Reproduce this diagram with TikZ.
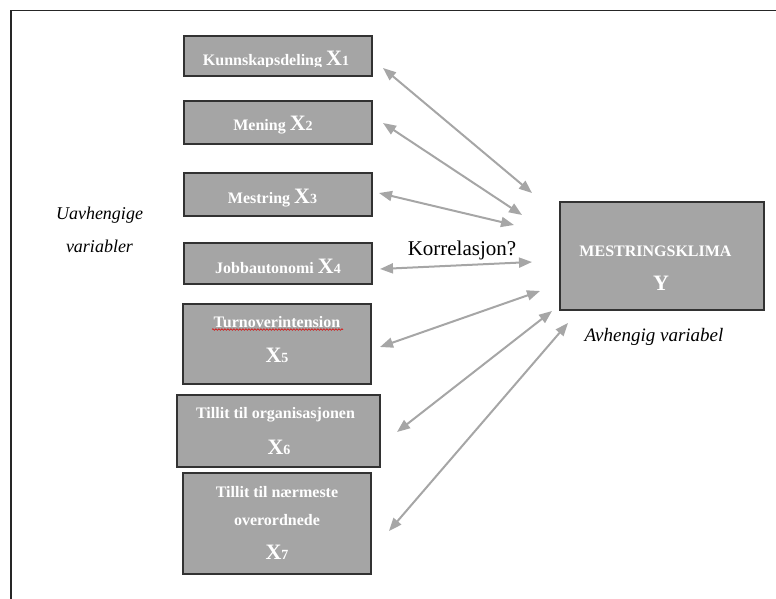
\documentclass[tikz,border=0pt]{standalone}
\usepackage{fontspec}
\setmainfont{Liberation Serif}
\usetikzlibrary{arrows.meta,decorations.pathmorphing}
\definecolor{boxgray}{RGB}{165,165,165}
\definecolor{agray}{RGB}{166,166,166}
\definecolor{edgegray}{RGB}{50,50,50}
\newcommand\bigX[1]{{\fontsize{22}{24}\selectfont X}{\fontsize{14}{16}\selectfont #1}}
\begin{document}
\begin{tikzpicture}[x=1pt,y=-1pt,
  vbox/.style={draw=edgegray, line width=1.3pt, fill=boxgray, rectangle, inner sep=0pt},
  lbl/.style={text=white, font=\bfseries\fontsize{16}{18}\selectfont, anchor=base, inner sep=0pt},
  side/.style={font=\itshape\fontsize{18}{20}\selectfont, anchor=base, inner sep=0pt},
  biarrow/.style={draw=agray, line width=2pt, {Triangle[length=13pt,width=10pt]}-{Triangle[length=13pt,width=10pt]}},
  frameline/.style={draw=black!85, line width=1.6pt}]
\useasboundingbox (0,0) rectangle (776,599);
% frame
\coordinate (fbl) at (11,599);
\coordinate (ftl) at (11,10.5);
\coordinate (ftr) at (776,10.5);
\draw[frameline] (fbl) -- (ftl) -- (ftr);
% boxes
\node[vbox, minimum width=188pt, minimum height=40pt] (x1) at (278,56) {};
\node[vbox, minimum width=188pt, minimum height=43pt] (x2) at (278,122.5) {};
\node[vbox, minimum width=188pt, minimum height=43pt] (x3) at (278,194.5) {};
\node[vbox, minimum width=188pt, minimum height=41pt] (x4) at (278,263.5) {};
\node[vbox, minimum width=188pt, minimum height=80pt] (x5) at (277,344) {};
\node[vbox, minimum width=203pt, minimum height=72pt] (x6) at (278.5,431) {};
\node[vbox, minimum width=188pt, minimum height=101pt] (x7) at (277,523.5) {};
\node[vbox, minimum width=204pt, minimum height=108pt] (y) at (662,256) {};
% labels
\begin{scope}
\clip (185,37) rectangle (371,67);
\node[lbl] (t1) at (276,66) {Kunnskapsdeling \bigX{1}};
\end{scope}
\node[lbl] (t2) at (273,131) {Mening \bigX{2}};
\node[lbl] (t3) at (272.5,203) {Mestring \bigX{3}};
\node[lbl] (t4) at (278,273) {Jobbautonomi \bigX{4}};
\node[lbl] (t5a) at (277,327) {Turnoverintension};
\node[lbl] (t5b) at (277,362) {\bigX{5}};
\node[lbl] (t6a) at (275.5,418) {Tillit til organisasjonen};
\node[lbl] (t6b) at (279,454) {\bigX{6}};
\node[lbl] (t7a) at (277,497) {Tillit til nærmeste};
\node[lbl] (t7b) at (277,525) {overordnede};
\node[lbl] (t7c) at (277,559) {\bigX{7}};
\node[lbl, font=\bfseries\fontsize{16}{18}\selectfont] (ty1) at (655.5,256) {MESTRINGSKLIMA};
\node[lbl, font=\bfseries\fontsize{22}{24}\selectfont] (ty2) at (661,290) {Y};
% spell-check squiggle
\coordinate (sq1) at (212,329.5);
\coordinate (sq2) at (343,329.5);
\draw[red!85!black, line width=0.6pt, decorate, decoration={snake, amplitude=0.8pt, segment length=3pt}] (sq1) -- (sq2);
% side texts
\node[side] (u1) at (99.5,219) {Uavhengige};
\node[side] (u2) at (99.5,252) {variabler};
\node[side, font=\itshape\fontsize{19}{21}\selectfont] (av) at (654,341) {Avhengig variabel};
\node[font=\fontsize{21}{23}\selectfont, anchor=base, inner sep=0pt] (kor) at (462,255) {Korrelasjon?};
% arrow endpoints
\coordinate (a1s) at (383,68);  \coordinate (a1e) at (532,193);
\coordinate (a2s) at (383,123); \coordinate (a2e) at (522,215);
\coordinate (a3s) at (379,193); \coordinate (a3e) at (514,225);
\coordinate (a4s) at (380,269); \coordinate (a4e) at (532,262);
\coordinate (a5s) at (380,347); \coordinate (a5e) at (540,291);
\coordinate (a6s) at (397,432); \coordinate (a6e) at (552,311);
\coordinate (a7s) at (389,531); \coordinate (a7e) at (568,323);
\draw[biarrow] (a1s) -- (a1e);
\draw[biarrow] (a2s) -- (a2e);
\draw[biarrow] (a3s) -- (a3e);
\draw[biarrow] (a4s) -- (a4e);
\draw[biarrow] (a5s) -- (a5e);
\draw[biarrow] (a6s) -- (a6e);
\draw[biarrow] (a7s) -- (a7e);
\end{tikzpicture}
\end{document}
